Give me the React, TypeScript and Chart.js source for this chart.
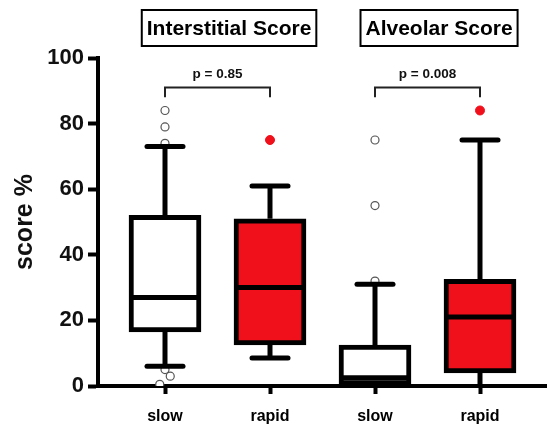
import { useEffect, useRef } from 'react';
import { Chart, registerables } from 'chart.js';

Chart.register(...registerables);

// ---------- data ----------
const categories = ['slow', 'rapid', 'slow', 'rapid'];
const positions = [1, 2, 3, 4];
const whiskerLow = [6, 8.5, 0, 0];
const q1 = [16.5, 12.5, 0.3, 4];
const median = [27, 30, 2.5, 21];
const q3 = [52, 51, 12.5, 32.5];
const whiskerHigh = [73, 61, 31, 75];
const slowIndex = [0, 2];
const rapidIndex = [1, 3];
const slowOutlierX = [1, 1, 1, 1, 1.05, 0.95, 3, 3, 3];
const slowOutlierY = [84, 79, 74, 5, 3, 0.5, 75, 55, 32];
const rapidOutlierX = [2, 4];
const rapidOutlierY = [75, 84];
const panelTitles = ['Interstitial Score', 'Alveolar Score'];
const panelPairs = [[1, 2], [3, 4]];
const pValues = ['p = 0.85', 'p = 0.008'];
const yTicks = [0, 20, 40, 60, 80, 100];

// ---------- style ----------
const FONT = "'Liberation Sans', Arial, sans-serif";
const RED = '#f0101c';
const BOX_W = 72;
const CAP_HALF = 18;
const LINE_W = 5;

const boxPlugin = {
  id: 'boxExtras',
  afterDatasetsDraw(chart: any) {
    const { ctx, scales } = chart;
    const x = scales.x;
    const y = scales.y;
    ctx.save();
    ctx.strokeStyle = '#000';
    const line = (x1: number, y1: number, x2: number, y2: number) => {
      ctx.beginPath();
      ctx.moveTo(x1, y1);
      ctx.lineTo(x2, y2);
      ctx.stroke();
    };
    positions.forEach((p, i) => {
      const cx = x.getPixelForValue(p);
      const yHi = y.getPixelForValue(whiskerHigh[i]);
      const yLo = y.getPixelForValue(whiskerLow[i]);
      ctx.lineWidth = LINE_W;
      ctx.lineCap = 'butt';
      line(cx, y.getPixelForValue(q3[i]), cx, yHi);
      line(cx, y.getPixelForValue(q1[i]), cx, yLo);
      ctx.lineCap = 'round';
      line(cx - CAP_HALF, yHi, cx + CAP_HALF, yHi);
      if (whiskerLow[i] > y.min) line(cx - CAP_HALF, yLo, cx + CAP_HALF, yLo);
      ctx.lineCap = 'butt';
      const ym = y.getPixelForValue(median[i]);
      line(cx - BOX_W / 2 + 2, ym, cx + BOX_W / 2 - 2, ym);
    });
    ctx.restore();
  },
  afterDraw(chart: any) {
    const { ctx, scales } = chart;
    const x = scales.x;
    const y = scales.y;
    ctx.save();
    panelPairs.forEach((pair, k) => {
      const xa = x.getPixelForValue(pair[0]);
      const xb = x.getPixelForValue(pair[1]);
      const mid = x.getPixelForValue((pair[0] + pair[1]) / 2);
      // bracket
      ctx.strokeStyle = '#222';
      ctx.lineWidth = 2;
      ctx.lineCap = 'butt';
      const yb = y.getPixelForValue(91);
      const ye = y.getPixelForValue(88);
      ctx.beginPath();
      ctx.moveTo(xa, ye);
      ctx.lineTo(xa, yb);
      ctx.lineTo(xb, yb);
      ctx.lineTo(xb, ye);
      ctx.stroke();
      // p value
      ctx.fillStyle = '#111';
      ctx.font = `bold 13.5px ${FONT}`;
      ctx.textAlign = 'center';
      ctx.textBaseline = 'middle';
      ctx.fillText(pValues[k], mid, y.getPixelForValue(95));
      // panel title
      const tx = x.getPixelForValue((pair[0] + pair[1]) / 2 + 0.11);
      ctx.font = `bold 21px ${FONT}`;
      const w = ctx.measureText(panelTitles[k]).width;
      ctx.fillStyle = '#fff';
      ctx.fillRect(tx - w / 2 - 5, 10, w + 10, 36);
      ctx.strokeStyle = '#000';
      ctx.lineWidth = 2;
      ctx.strokeRect(tx - w / 2 - 5, 10, w + 10, 36);
      ctx.fillStyle = '#000';
      ctx.fillText(panelTitles[k], tx, 29);
    });
    ctx.restore();
  },
};

export default function App() {
  const ref = useRef<HTMLCanvasElement | null>(null);
  useEffect(() => {
    if (!ref.current) return;
    Chart.defaults.font.family = FONT;
    const chart = new Chart(ref.current, {
      type: 'bar',
      data: {
        datasets: [
          {
            type: 'scatter',
            label: 'slow outliers',
            data: slowOutlierX.map((v, i) => ({ x: v, y: slowOutlierY[i] })),
            pointRadius: 4,
            pointBackgroundColor: '#fff',
            pointBorderColor: '#555',
            pointBorderWidth: 1.2,
            order: 0,
          },
          {
            type: 'scatter',
            label: 'rapid outliers',
            data: rapidOutlierX.map((v, i) => ({ x: v, y: rapidOutlierY[i] })),
            pointRadius: 4.5,
            pointBackgroundColor: RED,
            pointBorderColor: RED,
            pointBorderWidth: 1,
            order: 0,
          },
          {
            type: 'bar',
            label: 'slow',
            data: slowIndex.map((i) => ({ x: positions[i], y: [q1[i], q3[i]] })),
            backgroundColor: '#fff',
            borderColor: '#000',
            borderWidth: LINE_W,
            borderSkipped: false,
            barThickness: BOX_W,
            grouped: false,
            order: 1,
          },
          {
            type: 'bar',
            label: 'rapid',
            data: rapidIndex.map((i) => ({ x: positions[i], y: [q1[i], q3[i]] })),
            backgroundColor: RED,
            borderColor: '#000',
            borderWidth: LINE_W,
            borderSkipped: false,
            barThickness: BOX_W,
            grouped: false,
            order: 1,
          },
        ] as any,
      },
      options: {
        responsive: false,
        animation: false,
        layout: { autoPadding: false, padding: { top: 58, left: 0, right: 0, bottom: 0 } },
        plugins: { legend: { display: false }, tooltip: { enabled: false } },
        scales: {
          x: {
            type: 'linear',
            min: 1 - 67 / 105,
            max: 4 + 67 / 105,
            offset: false,
            afterBuildTicks: (s: any) => {
              s.ticks = positions.map((v) => ({ value: v }));
            },
            afterFit: (s: any) => {
              s.height = 40;
            },
            ticks: {
              callback: (_v: any, i: number) => categories[i],
              font: { size: 16, weight: 'bold' },
              color: '#000',
              padding: 13,
              autoSkip: false,
              maxRotation: 0,
            },
            grid: {
              display: true,
              drawOnChartArea: false,
              drawTicks: true,
              tickLength: 8,
              tickWidth: 4,
              tickColor: '#000',
              offset: false,
            },
            border: { display: true, color: '#000', width: 4 },
          },
          y: {
            type: 'linear',
            min: 0,
            max: 100,
            afterBuildTicks: (s: any) => {
              s.ticks = yTicks.map((v) => ({ value: v }));
            },
            afterFit: (s: any) => {
              s.width = 98;
            },
            ticks: {
              font: { size: 22, weight: 'bold' },
              color: '#111',
              padding: 4,
            },
            grid: {
              display: true,
              drawOnChartArea: false,
              drawTicks: true,
              tickLength: 10,
              tickWidth: 4,
              tickColor: '#000',
            },
            border: { display: true, color: '#000', width: 4 },
            title: {
              display: true,
              text: 'score %',
              font: { size: 25, weight: 'bold' },
              color: '#111',
              padding: { top: 10, bottom: 0 },
            },
          },
        },
      } as any,
      plugins: [boxPlugin],
    });
    return () => chart.destroy();
  }, []);
  return (
    <div style={{ position: 'absolute', left: 0, top: 0, width: 547, height: 426, background: '#fff' }}>
      <canvas ref={ref} width={547} height={426} />
    </div>
  );
}
